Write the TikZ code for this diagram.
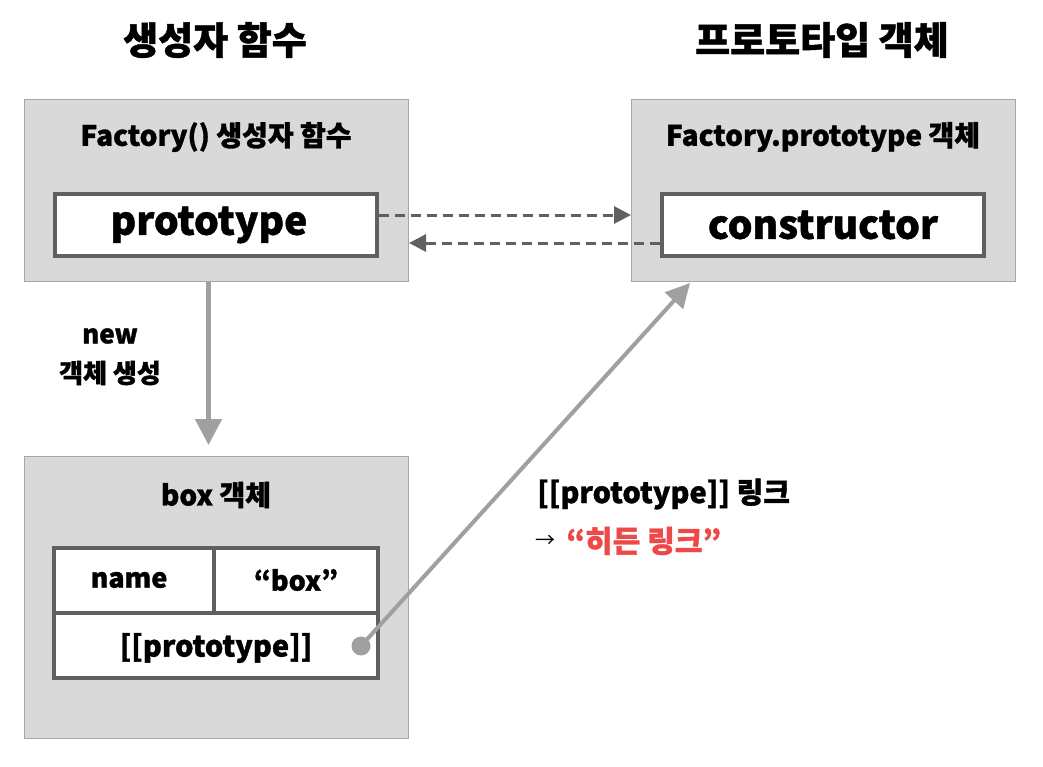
\documentclass[tikz,border=0pt]{standalone}
\usepackage{fontspec}
\setmainfont{Noto Sans CJK KR}[BoldFeatures={FakeBold=1.2}]
\usetikzlibrary{arrows.meta}
\definecolor{panelfill}{HTML}{D9D9D9}
\definecolor{panelline}{HTML}{A6A6A6}
\definecolor{innerline}{HTML}{606060}
\definecolor{linkgray}{HTML}{A0A0A0}
\definecolor{hred}{HTML}{EE4848}
\tikzset{
  panel/.style={draw=panelline, fill=panelfill, line width=1pt, anchor=north west, inner sep=0pt},
  cell/.style={draw=innerline, fill=white, line width=3.5pt, inner sep=0pt},
  title/.style={font=\bfseries\fontsize{38}{44}\selectfont},
  ptitle/.style={font=\bfseries\fontsize{28}{32}\selectfont},
  big/.style={font=\bfseries\fontsize{39}{46}\selectfont},
  mid/.style={font=\bfseries\fontsize{27}{32}\selectfont},
  lbl/.style={font=\bfseries\fontsize{26}{30}\selectfont},
  dasharrow/.style={draw=innerline, line width=3pt, dash pattern=on 10pt off 6pt, -{Triangle[length=17pt,width=17pt]}},
  flowarrow/.style={draw=linkgray, line width=5pt, -{Triangle[length=26pt,width=26pt]}},
  linkarrow/.style={draw=linkgray, line width=4pt, -{Triangle[length=24pt,width=24pt]}}
}
\begin{document}
\begin{tikzpicture}[x=1pt,y=-1pt]
\useasboundingbox[fill=white] (0,0) rectangle (1043,766);

\node[title] (t1) at (215,40) {생성자 함수};
\node[title] (t2) at (822,40) {프로토타입 객체};

% Factory panel
\node[panel, minimum width=384pt, minimum height=182pt] (fac) at (24,99) {};
\node[ptitle] (factitle) at (216,137) {Factory() 생성자 함수};
\node[cell, minimum width=322pt, minimum height=62pt] (pin) at (216,225) {};
\node[big] (pintext) at (209,225) {prototype};

% Prototype panel
\node[panel, minimum width=384pt, minimum height=182pt] (proto) at (631,99) {};
\node[ptitle] (prototitle) at (823,137) {Factory.prototype 객체};
\node[cell, minimum width=322pt, minimum height=62pt] (cin) at (823,225) {};
\node[big] (cintext) at (823,225) {constructor};

% box panel
\node[panel, minimum width=384pt, minimum height=282pt] (box) at (24,456) {};
\node[ptitle] (boxtitle) at (216,495) {box 객체};
\node[cell, minimum width=160pt, minimum height=65pt] (namecell) at (134,580.5) {};
\node[cell, minimum width=164pt, minimum height=65pt] (valcell) at (296,580.5) {};
\node[cell, minimum width=324pt, minimum height=65pt] (protocell) at (216,645.5) {};
\node[mid] (nametext) at (129,580) {name};
\node[mid] (valtext) at (296,580) {“box”};
\node[mid, font=\bfseries\fontsize{29}{34}\selectfont] (prototext) at (216,648) {[[prototype]]};

% arrows
\draw[dasharrow] ([yshift=10pt]pin.east) -- ([yshift=10pt]pin.east -| proto.west);
\draw[dasharrow] ([yshift=-18pt]cin.west) -- ([yshift=-18pt]cin.west -| fac.east);

\draw[flowarrow, shorten >=11pt] ([xshift=-8pt]fac.south) -- ([xshift=-8pt]box.north);
\node[lbl] (newt) at (110,336) {new};
\node[lbl] (newk) at (110,373) {객체 생성};

\coordinate (dot) at (361,646);
\coordinate (linkend) at (690,283);
\draw[linkarrow] (dot) -- (linkend);
\fill[linkgray] (dot) circle (9.5pt);

\node[anchor=west, inner sep=0pt, font=\bfseries\fontsize{29}{34}\selectfont] (linktext) at (537,494) {[[prototype]] 링크};
\node[anchor=west, inner sep=0pt, font=\fontsize{20}{24}\selectfont] (arr) at (535,541) {→};
\node[anchor=west, inner sep=0pt, text=hred, font=\bfseries\fontsize{30}{34}\selectfont] (hidden) at (566,541) {“히든 링크”};
\end{tikzpicture}
\end{document}
